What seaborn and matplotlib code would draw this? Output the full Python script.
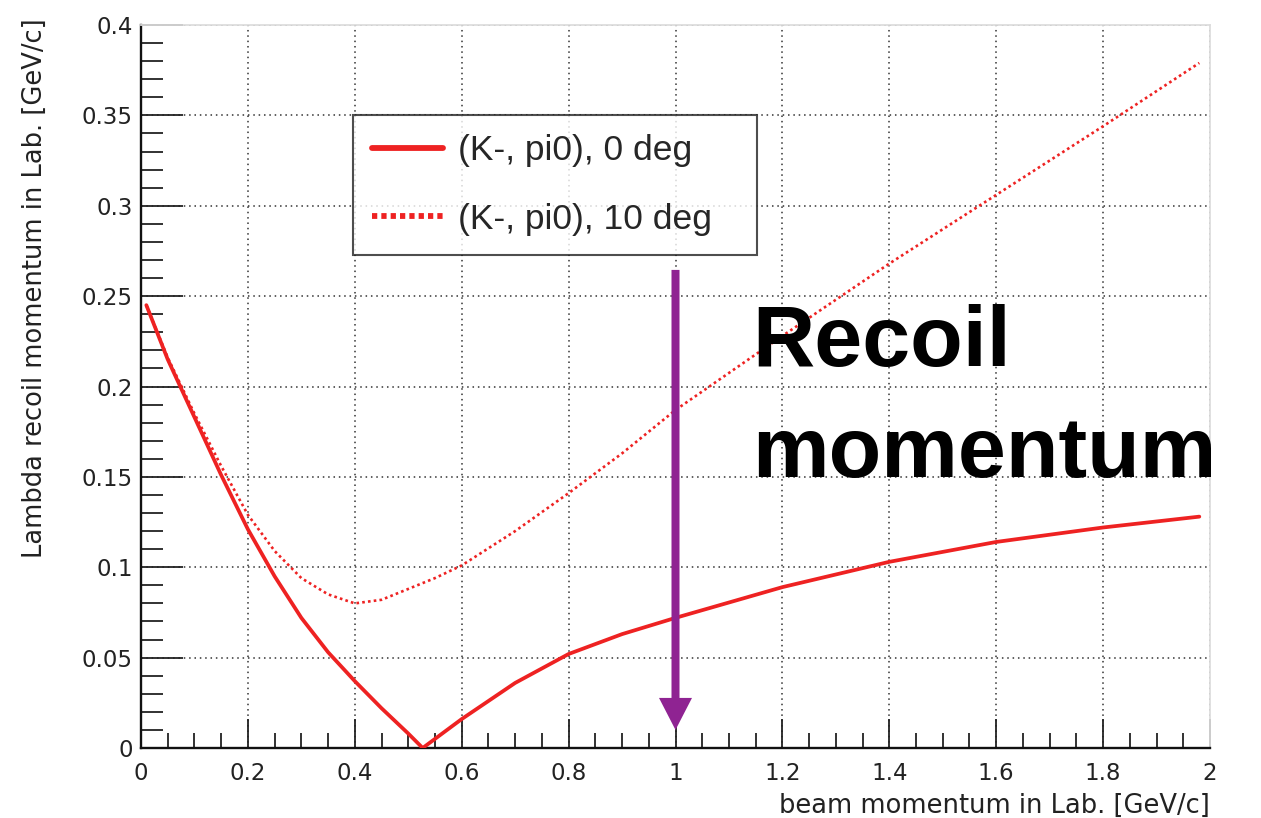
import numpy as np
import pandas as pd
import matplotlib
matplotlib.use("Agg")
import matplotlib.pyplot as plt
import seaborn as sns
from matplotlib.lines import Line2D
from matplotlib.ticker import MultipleLocator

# Beam momentum in the lab frame [GeV/c]
beam_0deg = [0.01, 0.05, 0.10, 0.15, 0.20, 0.25, 0.30, 0.35, 0.40, 0.45, 0.50, 0.527,
             0.60, 0.70, 0.80, 0.90, 1.00, 1.20, 1.40, 1.60, 1.80, 1.98]
# Lambda recoil momentum for (K-, pi0) at 0 deg [GeV/c]
recoil_0deg = [0.245, 0.215, 0.183, 0.151, 0.121, 0.095, 0.072, 0.053, 0.037, 0.022, 0.008, 0.0,
               0.016, 0.036, 0.052, 0.063, 0.072, 0.089, 0.103, 0.114, 0.122, 0.128]

beam_10deg = [0.01, 0.05, 0.10, 0.15, 0.20, 0.25, 0.30, 0.35, 0.40, 0.45, 0.50, 0.55,
              0.60, 0.70, 0.80, 0.90, 1.00, 1.20, 1.40, 1.60, 1.80, 1.98]
# Lambda recoil momentum for (K-, pi0) at 10 deg [GeV/c]
recoil_10deg = [0.245, 0.216, 0.185, 0.156, 0.129, 0.109, 0.094, 0.085, 0.080, 0.082, 0.088, 0.094,
                0.101, 0.120, 0.141, 0.163, 0.187, 0.228, 0.268, 0.306, 0.344, 0.379]

series_labels = ["(K-, pi0), 0 deg", "(K-, pi0), 10 deg"]
x_ticks = [0, 0.2, 0.4, 0.6, 0.8, 1.0, 1.2, 1.4, 1.6, 1.8, 2.0]
x_tick_labels = ["0", "0.2", "0.4", "0.6", "0.8", "1", "1.2", "1.4", "1.6", "1.8", "2"]
y_ticks = [0, 0.05, 0.1, 0.15, 0.2, 0.25, 0.3, 0.35, 0.4]
y_tick_labels = ["0", "0.05", "0.1", "0.15", "0.2", "0.25", "0.3", "0.35", "0.4"]
x_label = "beam momentum in Lab. [GeV/c]"
y_label = "Lambda recoil momentum in Lab. [GeV/c]"
note_lines = ["Recoil", "momentum"]
arrow_x = 1.0
arrow_top = 0.2645
arrow_tip = 0.010

sns.set_theme(style="white")
plt.rcParams["font.family"] = ["Liberation Sans", "DejaVu Sans"]

W, H = 1261, 818
fig = plt.figure(figsize=(W / 100, H / 100), dpi=100)
ax = fig.add_axes([141 / W, 1 - 748 / H, (1210 - 141) / W, (748 - 25) / H])

red = "#ee2222"
df0 = pd.DataFrame({"p": beam_0deg, "q": recoil_0deg})
df10 = pd.DataFrame({"p": beam_10deg, "q": recoil_10deg})
sns.lineplot(data=df0, x="p", y="q", ax=ax, color=red, linewidth=2.7, sort=True, zorder=3)
sns.lineplot(data=df10, x="p", y="q", ax=ax, color=red, linewidth=1.9,
             linestyle=(0, (1, 1.2)), sort=True, zorder=3)

ax.set_xlim(0, 2)
ax.set_ylim(0, 0.4)
ax.set_xticks(x_ticks)
ax.set_xticklabels(x_tick_labels)
ax.set_yticks(y_ticks)
ax.set_yticklabels(y_tick_labels)
ax.xaxis.set_minor_locator(MultipleLocator(0.05))
ax.yaxis.set_minor_locator(MultipleLocator(0.01))

for lab in ax.get_xticklabels() + ax.get_yticklabels():
    lab.set_fontfamily(["DejaVu Sans"])
    lab.set_fontsize(16.5)

ax.tick_params(axis="x", which="major", direction="in", length=21, width=1.3,
               pad=10, colors="#222222", bottom=True)
ax.tick_params(axis="x", which="minor", direction="in", length=11, width=1.3, bottom=True,
               colors="#222222")
ax.tick_params(axis="y", which="major", direction="in", length=30, width=1.3,
               pad=6, colors="#222222", left=True)
ax.tick_params(axis="y", which="minor", direction="in", length=16, width=1.3, left=True,
               colors="#222222")

ax.grid(True, which="major", color="#333333", linestyle=(0, (1, 2.5)), linewidth=1.1)

for side in ("left", "bottom"):
    ax.spines[side].set_color("#111111")
    ax.spines[side].set_linewidth(1.7)
for side in ("top", "right"):
    ax.spines[side].set_color("#dddddd")
    ax.spines[side].set_linewidth(1.3)

ax.set_xlabel(x_label, fontsize=18.5, color="#222222", family=["DejaVu Sans"])
ax.xaxis.set_label_coords(1.0, -(793 - 748) / 723)
ax.xaxis.label.set_ha("right")
ax.xaxis.label.set_va("top")
ax.set_ylabel(y_label, fontsize=18.5, color="#222222", family=["DejaVu Sans"])
ax.yaxis.set_label_coords((48 - 141) / 1069, 1.0 + 7 / 723)
ax.yaxis.label.set_ha("right")

handles = [Line2D([0], [0], color=red, linewidth=4.2),
           Line2D([0], [0], color=red, linewidth=4.2, linestyle=(0, (0.9, 0.7)))]
leg_x0 = (353 - 141) / 1069
leg_w = (757 - 353) / 1069
leg_top = (748 - 115) / 723
leg = ax.legend(handles, series_labels, loc="upper left", mode="expand",
                bbox_to_anchor=(leg_x0, leg_top - 0.3, leg_w, 0.3),
                prop=dict(family=["Liberation Sans"], size=25.5),
                frameon=True, fancybox=False, handlelength=2.0,
                handletextpad=0.42, borderpad=0.55, labelspacing=1.0,
                borderaxespad=0)
leg.get_frame().set_edgecolor("#222222")
leg.get_frame().set_linewidth(1.5)
leg.set_zorder(5)

ax.arrow(arrow_x, arrow_top, 0, arrow_tip - arrow_top, width=8 / 534.5,
         head_width=33 / 534.5, head_length=32 / 1807.5, length_includes_head=True,
         color="#8f2392", linewidth=0, zorder=4)

ax.text(1.143, (748 - 366) / 1807.5, note_lines[0], fontsize=62, fontweight="bold",
        color="black", ha="left", va="baseline", family=["Liberation Sans"], zorder=6)
ax.text(1.143, (748 - 477) / 1807.5, note_lines[1], fontsize=62, fontweight="bold",
        color="black", ha="left", va="baseline", family=["Liberation Sans"], zorder=6)

fig.savefig("out.png", dpi=100)
